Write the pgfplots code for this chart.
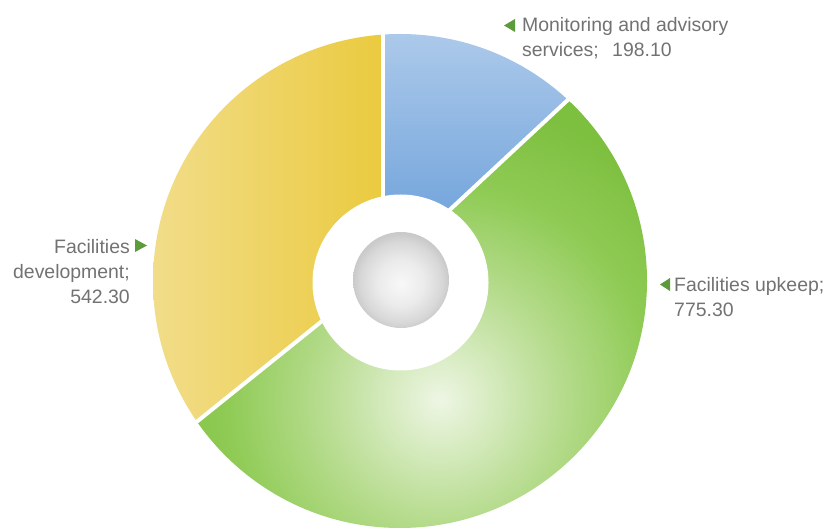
\documentclass[border=0pt]{standalone}
\usepackage{fontspec}
\setmainfont{Liberation Sans}
\usepackage{pgfplots}
\usepackage{pgfplotstable}
\pgfplotsset{compat=1.18}

\definecolor{lbl}{HTML}{727272}
\definecolor{tri}{HTML}{5B9B3B}
\definecolor{bTop}{HTML}{C6DAF1}
\definecolor{bBot}{HTML}{5D96D6}
\definecolor{yL}{HTML}{F5E6AE}
\definecolor{yR}{HTML}{E7C11A}
\definecolor{gA}{HTML}{EEF6E4}
\definecolor{gB}{HTML}{B5DB8C}
\definecolor{gC}{HTML}{8FCB55}
\definecolor{gD}{HTML}{7DBF3F}
\definecolor{gE}{HTML}{76B836}
\definecolor{kA}{HTML}{F8F8F8}
\definecolor{kB}{HTML}{EBEBEB}
\definecolor{kC}{HTML}{D8D8D8}
\definecolor{kD}{HTML}{CACACA}

\pgfdeclareradialshading{greenrad}{\pgfpoint{0bp}{0bp}}{color(0bp)=(gA); color(5.5bp)=(gB); color(9.5bp)=(gC); color(13.5bp)=(gD); color(25bp)=(gE); color(50bp)=(gE)}
\pgfdeclareradialshading{ballrad}{\pgfpoint{0bp}{-2bp}}{color(0bp)=(kA); color(12bp)=(kB); color(21bp)=(kC); color(25bp)=(kD); color(50bp)=(kD)}

\pgfplotstableread{
label value
Monitoring 198.10
Upkeep 775.30
Development 542.30
}\datatable

\pgfplotstablegetelem{0}{value}\of\datatable \pgfmathsetmacro\vA{\pgfplotsretval}
\pgfplotstablegetelem{1}{value}\of\datatable \pgfmathsetmacro\vB{\pgfplotsretval}
\pgfplotstablegetelem{2}{value}\of\datatable \pgfmathsetmacro\vC{\pgfplotsretval}
\pgfmathsetmacro\T{\vA+\vB+\vC}
\pgfmathsetmacro\aA{90}
\pgfmathsetmacro\aB{\aA-360*(\vA/\T)}
\pgfmathsetmacro\aC{\aB-360*(\vB/\T)}
\pgfmathsetmacro\aD{\aC-360*(\vC/\T)}

\begin{document}
\begin{tikzpicture}
\begin{axis}[
  scale only axis, width=832bp, height=524bp,
  xmin=0, xmax=832, ymin=0, ymax=524,
  hide axis, clip=false,
]
\path (axis cs:0,0) rectangle (axis cs:832,524);
% Monitoring (blue)
\begin{scope}
  \clip (axis cs:400,251) circle[radius=247bp];
  \clip (axis cs:383,260) -- ++(\aA:400bp) arc[start angle=\aA, end angle=\aB, radius=400bp] -- cycle;
  \shade[top color=bTop, bottom color=bBot] (axis cs:360,237) rectangle (axis cs:660,585);
\end{scope}
% Upkeep (green)
\begin{scope}
  \clip (axis cs:400,251) circle[radius=247bp];
  \clip (axis cs:383,260) -- ++(\aB:400bp) arc[start angle=\aB, end angle=\aC, radius=400bp] -- cycle;
  \shade[shading=greenrad] (axis cs:440,132) circle[radius=560bp];
\end{scope}
% Development (yellow)
\begin{scope}
  \clip (axis cs:400,251) circle[radius=247bp];
  \clip (axis cs:383,260) -- ++(\aC:400bp) arc[start angle=\aC, end angle=\aD, radius=400bp] -- cycle;
  \shade[left color=yL, right color=yR] (axis cs:41,0) rectangle (axis cs:497,524);
\end{scope}
% separators
\draw[white, line width=4bp] (axis cs:383,260) -- ++(\aA:270bp);
\draw[white, line width=4bp] (axis cs:383,260) -- ++(\aB:270bp);
\draw[white, line width=4bp] (axis cs:383,260) -- ++(\aC:270bp);
% hole and ball
\fill[white] (axis cs:400.5,249.5) circle[radius=88bp];
\shade[shading=ballrad] (axis cs:401,252) circle[radius=48bp];

% labels
\begin{scope}[every node/.style={text=lbl, inner sep=0pt, font=\fontsize{19.5}{25}\selectfont}]
\fill[tri] (axis cs:504,506.5) -- (axis cs:515,513) -- (axis cs:515,500) -- cycle;
\node[anchor=base west] at (axis cs:522,500) {Monitoring and advisory};
\node[anchor=base west] at (axis cs:522,475) {services;};
\node[anchor=base west] at (axis cs:612,475) {198.10};

\fill[tri] (axis cs:147,286.5) -- (axis cs:135,293) -- (axis cs:135,280) -- cycle;
\node[anchor=base east] at (axis cs:130,278) {Facilities};
\node[anchor=base east] at (axis cs:130,253) {development;};
\node[anchor=base east] at (axis cs:130,228) {542.30};

\fill[tri] (axis cs:660,247.5) -- (axis cs:670,254) -- (axis cs:670,241) -- cycle;
\node[anchor=base west] at (axis cs:674,240) {Facilities upkeep;};
\node[anchor=base west] at (axis cs:674,215) {775.30};
\end{scope}
\end{axis}
\end{tikzpicture}
\end{document}
